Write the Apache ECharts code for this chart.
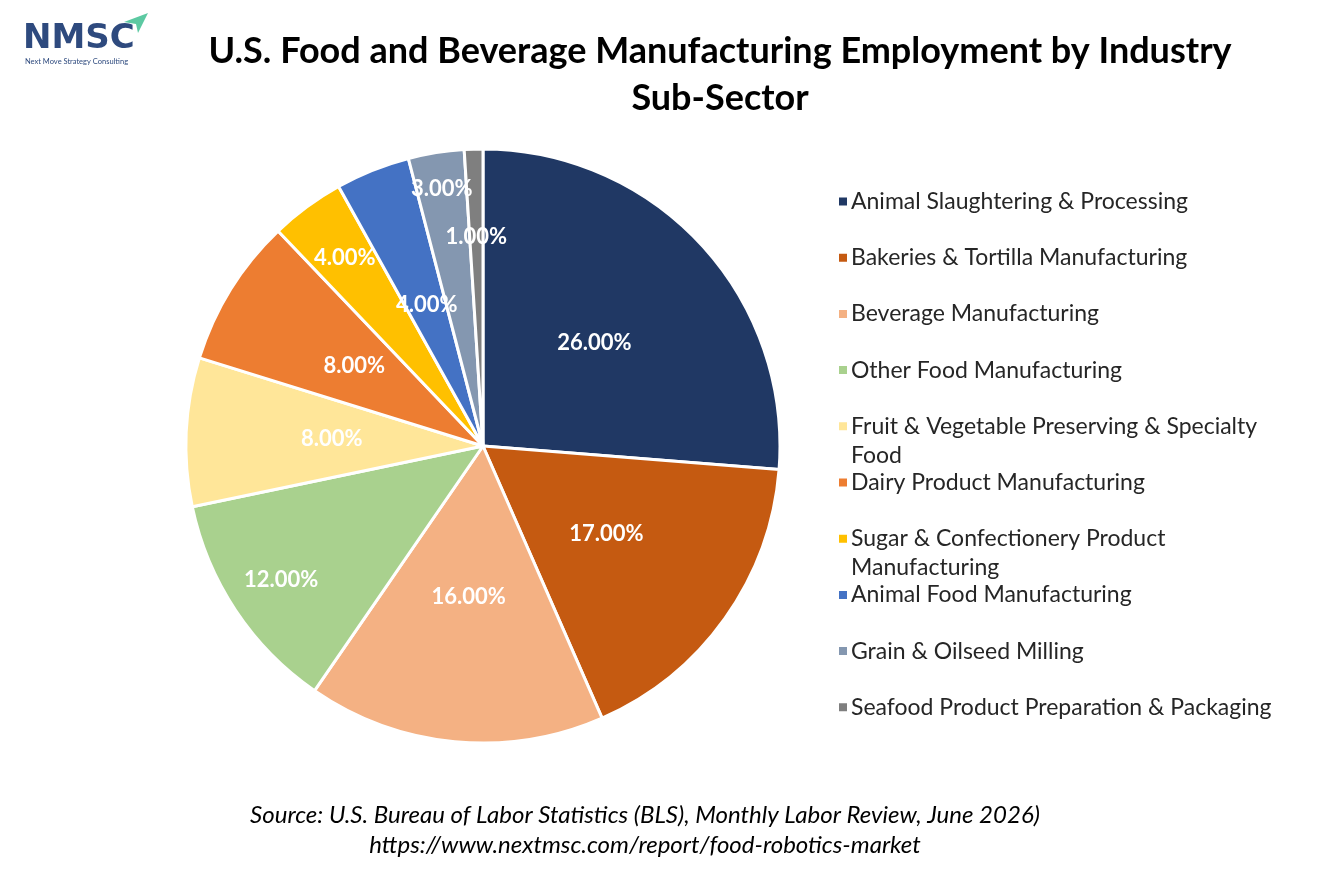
<!DOCTYPE html>
<html lang="en">
<head>
<meta charset="UTF-8" />
<title>U.S. Food and Beverage Manufacturing Employment by Industry Sub-Sector</title>
<script src="https://cdn.jsdelivr.net/npm/echarts@6.0.0/dist/echarts.min.js"></script>
<style>
  html, body { margin: 0; padding: 0; background: #fff; }
  #chart { width: 1334px; height: 889px; }
</style>
</head>
<body>
<div id="chart"></div>
<script>
// sub-sectors and their share of employment (%)
var categories = [
  'Animal Slaughtering & Processing',
  'Bakeries & Tortilla Manufacturing',
  'Beverage Manufacturing',
  'Other Food Manufacturing',
  'Fruit & Vegetable Preserving & Specialty Food',
  'Dairy Product Manufacturing',
  'Sugar & Confectionery Product Manufacturing',
  'Animal Food Manufacturing',
  'Grain & Oilseed Milling',
  'Seafood Product Preparation & Packaging'
];
var shares = [26, 17, 16, 12, 8, 8, 4, 4, 3, 1];

var colors = ['#203864', '#c55a11', '#f4b183', '#a9d18e', '#ffe699',
              '#ed7d31', '#ffc000', '#4472c4', '#8497b0', '#7f7f7f'];

// how far out each label sits, as a fraction of the radius
var labelRadius = [0.5, 0.5, 0.5, 0.8, 0.5, 0.5, 0.77, 0.5, 0.86, 0.69];

var CX = 483, CY = 446, R = 297;
var FONT = 'Lato, "Open Sans", sans-serif';
var LEG_FONT = 23, LEG_WIDTH = 428, LEG_LH = 29;

// count wrapped lines so the icon can sit beside the first line
var measure = document.createElement('canvas').getContext('2d');
measure.font = LEG_FONT + 'px ' + FONT;
function lineCount(text) {
  var words = text.split(' '), line = '', n = 1;
  words.forEach(function (w) {
    var test = line ? line + ' ' + w : w;
    if (line && measure.measureText(test).width > LEG_WIDTH) { n++; line = w; }
    else line = test;
  });
  return n;
}

var chart = echarts.init(document.getElementById('chart'));

// one legend per item so the rows stay evenly spaced when a name wraps
var legends = categories.map(function (name, i) {
  var more = lineCount(name) - 1;
  // blank lines on top keep the first text line level with the icon
  var lead = new Array(more + 1).join('\n');
  return {
    orient: 'vertical',
    left: 832,
    top: 182 + i * 56.2 - more * LEG_LH,
    data: [name],
    selectedMode: false,
    itemWidth: 10,
    itemHeight: 10,
    icon: 'rect',
    formatter: function (n) { return lead + n; },
    textStyle: {
      fontFamily: FONT,
      fontSize: LEG_FONT,
      color: '#262626',
      width: LEG_WIDTH,
      overflow: 'break',
      lineHeight: LEG_LH,
      padding: [0, 0, 0, -2]
    }
  };
});

var option = {
  color: colors,
  animation: false,
  legend: legends,
  graphic: [
    {
      type: 'text', x: 720, y: 28,
      style: {
        text: 'U.S. Food and Beverage Manufacturing Employment by Industry\nSub-Sector',
        align: 'center',
        font: 'bold 36px ' + FONT, lineHeight: 47, fill: '#000'
      }
    },
    {
      type: 'text', x: 645, y: 800,
      style: {
        text: 'Source: U.S. Bureau of Labor Statistics (BLS), Monthly Labor Review, June 2026)\nhttps://www.nextmsc.com/report/food-robotics-market',
        align: 'center',
        font: 'italic 24px ' + FONT, lineHeight: 30, fill: '#000'
      }
    },
    // logo
    {
      type: 'text', x: 23, y: 22,
      style: { text: 'NMSC', font: 'bold 34px "DejaVu Sans", sans-serif', fill: '#2e4a7e' }
    },
    {
      type: 'text', x: 25, y: 58,
      style: { text: 'Next Move Strategy Consulting', font: '7.5px ' + FONT, fill: '#2e4a7e' }
    },
    {
      type: 'polygon',
      shape: { points: [[124, 22], [148, 13], [138, 33], [136, 24]] },
      style: { fill: '#5cc9a2' }
    }
  ],
  series: [{
    type: 'pie',
    center: [CX, CY],
    radius: R,
    startAngle: 90,
    clockwise: true,
    data: categories.map(function (name, i) {
      return { name: name, value: shares[i] };
    }),
    itemStyle: { borderColor: '#fff', borderWidth: 3 },
    label: {
      show: true,
      position: 'inside',
      formatter: function (p) { return p.value.toFixed(2) + '%'; },
      fontFamily: FONT,
      fontWeight: 'bold',
      fontSize: 22,
      color: '#fff'
    },
    labelLayout: function (p) {
      var lx = p.labelRect.x + p.labelRect.width / 2;
      var ly = p.labelRect.y + p.labelRect.height / 2;
      var k = labelRadius[p.dataIndex] / 0.5 - 1;
      return { dx: (lx - CX) * k, dy: (ly - CY) * k };
    },
    emphasis: { disabled: true }
  }]
};

chart.setOption(option);
</script>
</body>
</html>
